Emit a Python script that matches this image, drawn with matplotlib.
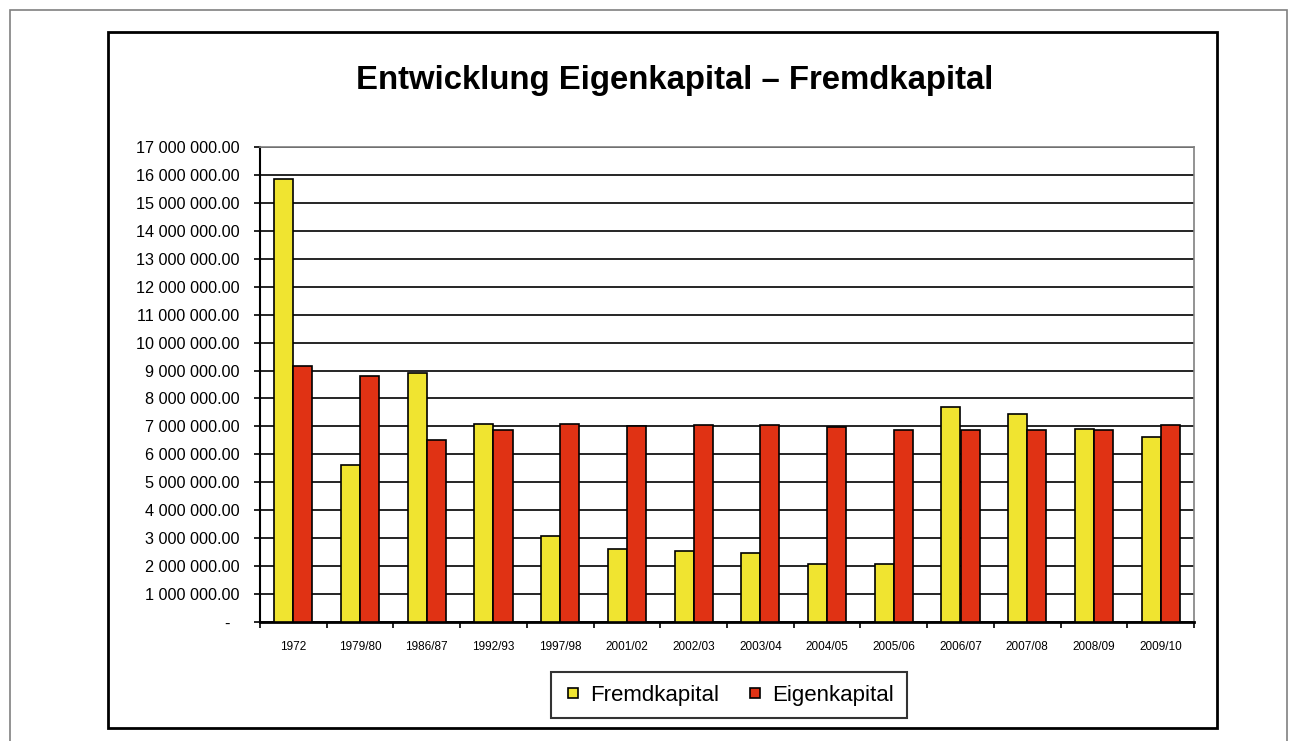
import numpy as np
import matplotlib.pyplot as plt
from matplotlib.lines import Line2D
from matplotlib.patches import Rectangle

plt.rcParams['font.family'] = ['Liberation Sans', 'DejaVu Sans']

# --- Data ---
jahre = ["1972", "1979/80", "1986/87", "1992/93", "1997/98", "2001/02", "2002/03",
         "2003/04", "2004/05", "2005/06", "2006/07", "2007/08", "2008/09", "2009/10"]
fremdkapital = [15_860_000, 5_610_000, 8_920_000, 7_080_000, 3_080_000, 2_620_000, 2_530_000,
                2_470_000, 2_080_000, 2_080_000, 7_710_000, 7_460_000, 6_920_000, 6_630_000]
eigenkapital = [9_170_000, 8_820_000, 6_510_000, 6_860_000, 7_080_000, 7_020_000, 7_040_000,
                7_040_000, 6_970_000, 6_870_000, 6_870_000, 6_860_000, 6_860_000, 7_060_000]
y_ticks = np.arange(0, 17_000_001, 1_000_000)

gelb = "#F0E430"
rot = "#E03214"

fig = plt.figure(figsize=(12.97, 7.41), dpi=100)

# outer and inner frames
fig.patches.append(Rectangle((10/1297, -0.05), 1277/1297, 1.05 - 10/741, transform=fig.transFigure,
                             fill=False, edgecolor="#808080", linewidth=1.2))
fig.patches.append(Rectangle((108/1297, 1 - 728/741), 1109/1297, 696/741, transform=fig.transFigure,
                             fill=False, edgecolor="black", linewidth=2))

ax = fig.add_axes([260/1297, 1 - 622/741, 934/1297, 475/741])

x = np.arange(len(jahre))
w = 0.285
ax.bar(x - w/2, fremdkapital, w, color=gelb, edgecolor="black", linewidth=1.2, zorder=3)
ax.bar(x + w/2, eigenkapital, w, color=rot, edgecolor="black", linewidth=1.2, zorder=3)

ax.set_xlim(-0.5, len(jahre) - 0.5)
ax.set_ylim(0, 17_000_000)
ax.set_yticks(y_ticks)
ax.set_yticklabels(["-  " if v == 0 else f"{v:,.2f}".replace(",", " ") for v in y_ticks], fontsize=11.7)
ax.yaxis.grid(True, color="black", linewidth=1.2, zorder=0)

ax.set_xticks(x)
ax.set_xticklabels(jahre, fontsize=8.5)
ax.set_xticks(np.arange(-0.5, len(jahre)), minor=True)
ax.tick_params(axis="x", which="major", length=0, pad=14)
ax.tick_params(axis="x", which="minor", length=4, width=1.2, direction="out")
ax.tick_params(axis="y", length=4, width=1.2, direction="out", pad=11)

for s in ["top", "right"]:
    ax.spines[s].set_color("#808080")
    ax.spines[s].set_linewidth(1.2)
ax.spines["left"].set_linewidth(1.5)
ax.spines["bottom"].set_linewidth(2)

fig.text(675/1297, 1 - 81/741, "Entwicklung Eigenkapital \u2013 Fremdkapital",
         ha="center", va="center", fontsize=23.7, fontweight="bold")

handles = [Line2D([], [], linestyle="none", marker="s", markersize=7, markerfacecolor=gelb,
                  markeredgecolor="black", markeredgewidth=1.2),
           Line2D([], [], linestyle="none", marker="s", markersize=7, markerfacecolor=rot,
                  markeredgecolor="black", markeredgewidth=1.2)]
leg = fig.legend(handles, ["Fremdkapital", "Eigenkapital"], loc="center",
                 bbox_to_anchor=(729/1297, 1 - 695/741), ncol=2, fontsize=16,
                 frameon=True, fancybox=False, edgecolor="black", handlelength=0.8,
                 handletextpad=0.4, columnspacing=1.2, borderpad=0.55)
leg.get_frame().set_linewidth(1.5)

fig.savefig("out.png", dpi=100)
